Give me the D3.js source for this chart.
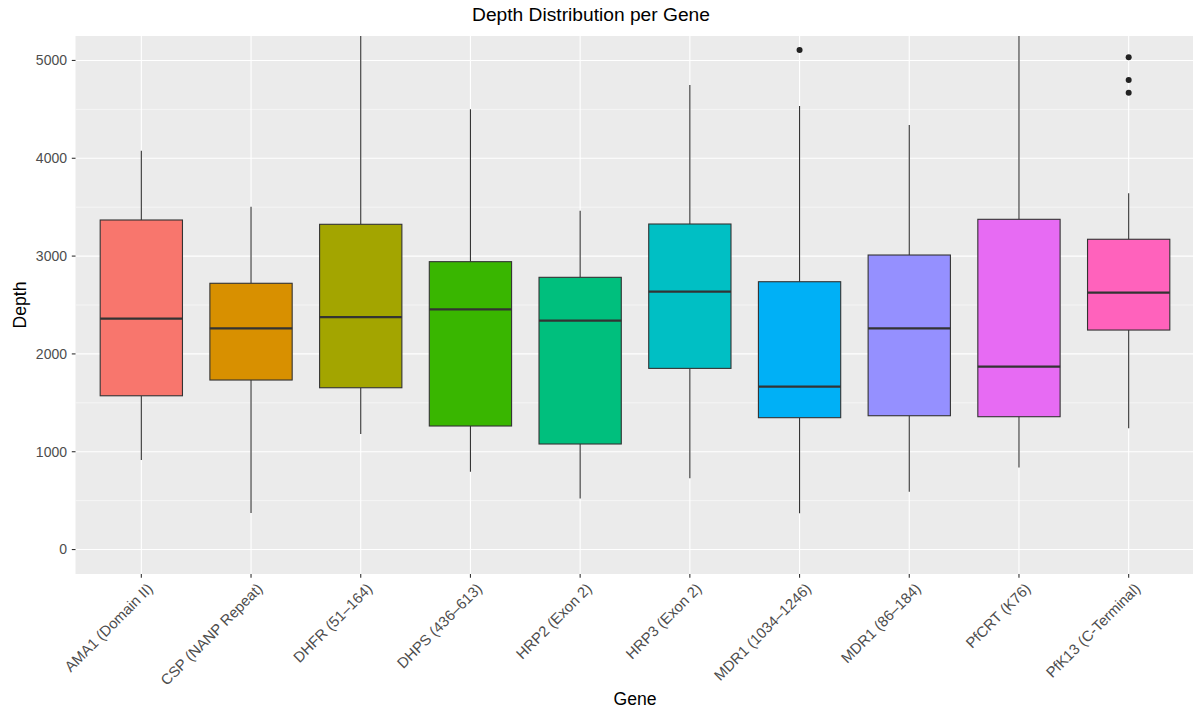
<!DOCTYPE html>
<html>
<head>
<meta charset="utf-8">
<script src="https://cdn.jsdelivr.net/npm/d3@7"></script>
<style>
  html, body { margin: 0; padding: 0; background: #fff; }
  svg { display: block; }
  text { font-family: "Liberation Sans", Arial, sans-serif; }
</style>
</head>
<body>
<svg id="chart" width="1193" height="710"></svg>
<script>
// ---- data ----
const genes = ["AMA1 (Domain II)", "CSP (NANP Repeat)", "DHFR (51\u2013164)", "DHPS (436\u2013613)",
  "HRP2 (Exon 2)", "HRP3 (Exon 2)", "MDR1 (1034\u20131246)", "MDR1 (86\u2013184)", "PfCRT (K76)", "PfK13 (C-Terminal)"];
const whiskerLow  = [915, 373, 1181, 796, 523, 728, 370, 591, 840, 1239];
const q1          = [1572, 1733, 1654, 1263, 1079, 1852, 1348, 1368, 1358, 2244];
const median      = [2360, 2262, 2377, 2456, 2340, 2636, 1665, 2262, 1869, 2626];
const q3          = [3369, 2722, 3325, 2943, 2783, 3328, 2738, 3011, 3376, 3172];
const whiskerHigh = [4078, 3505, 5600, 4501, 3464, 4749, 4535, 4340, 5600, 3642];
const outliers    = [[], [], [], [], [], [], [5107], [], [], [5033, 4801, 4671]];
const colors = ["#F8766D", "#D89000", "#A3A500", "#39B600", "#00BF7D", "#00BFC4", "#00B0F6", "#9590FF", "#E76BF3", "#FF62BC"];
const yTicks = [0, 1000, 2000, 3000, 4000, 5000];
const yMinor = [500, 1500, 2500, 3500, 4500];
const yLimits = [-250, 5250];

// ---- layout ----
const svg = d3.select("#chart");
const panel = { left: 75.5, right: 1194.5, top: 36, bottom: 574 };

// ggplot discrete expansion: 0.6 units each side
const x = d3.scalePoint().domain(genes)
  .range([panel.left, panel.right]).padding(0.6);
const cx = g => x(g);
const unit = x.step();
const y = d3.scaleLinear().domain(yLimits).range([panel.bottom, panel.top]);

// panel background
svg.append("rect").attr("x", panel.left).attr("y", panel.top)
  .attr("width", panel.right - panel.left).attr("height", panel.bottom - panel.top)
  .attr("fill", "#EBEBEB");

svg.append("clipPath").attr("id", "clip").append("rect")
  .attr("x", panel.left).attr("y", panel.top)
  .attr("width", panel.right - panel.left).attr("height", panel.bottom - panel.top);

const grid = svg.append("g").attr("clip-path", "url(#clip)");
grid.selectAll(".minor").data(yMinor).join("line")
  .attr("x1", panel.left).attr("x2", panel.right)
  .attr("y1", d => y(d)).attr("y2", d => y(d))
  .attr("stroke", "#fff").attr("stroke-width", 0.55);
grid.selectAll(".major").data(yTicks).join("line")
  .attr("x1", panel.left).attr("x2", panel.right)
  .attr("y1", d => y(d)).attr("y2", d => y(d))
  .attr("stroke", "#fff").attr("stroke-width", 1.1);
grid.selectAll(".vmajor").data(genes).join("line")
  .attr("x1", d => cx(d)).attr("x2", d => cx(d))
  .attr("y1", panel.top).attr("y2", panel.bottom)
  .attr("stroke", "#fff").attr("stroke-width", 1.1);

// boxes
const marks = svg.append("g").attr("clip-path", "url(#clip)");
const bw = unit * 0.75;
const rows = genes.map((g, i) => ({ g, i }));

const box = marks.selectAll(".box").data(rows).join("g");
box.append("line")
  .attr("x1", d => cx(d.g)).attr("x2", d => cx(d.g))
  .attr("y1", d => y(q3[d.i])).attr("y2", d => y(whiskerHigh[d.i]))
  .attr("stroke", "#333").attr("stroke-width", 1.1);
box.append("line")
  .attr("x1", d => cx(d.g)).attr("x2", d => cx(d.g))
  .attr("y1", d => y(q1[d.i])).attr("y2", d => y(whiskerLow[d.i]))
  .attr("stroke", "#333").attr("stroke-width", 1.1);
box.append("rect")
  .attr("x", d => cx(d.g) - bw / 2).attr("width", bw)
  .attr("y", d => y(q3[d.i])).attr("height", d => y(q1[d.i]) - y(q3[d.i]))
  .attr("fill", d => colors[d.i]).attr("stroke", "#333").attr("stroke-width", 1.1);
box.append("line")
  .attr("x1", d => cx(d.g) - bw / 2).attr("x2", d => cx(d.g) + bw / 2)
  .attr("y1", d => y(median[d.i])).attr("y2", d => y(median[d.i]))
  .attr("stroke", "#333").attr("stroke-width", 2.2);
box.selectAll("circle").data(d => outliers[d.i].map(v => ({ g: d.g, v }))).join("circle")
  .attr("cx", d => cx(d.g)).attr("cy", d => y(d.v)).attr("r", 3)
  .attr("fill", "#222");

// y axis
const yAxis = svg.append("g");
yTicks.forEach(t => {
  yAxis.append("line").attr("x1", panel.left - 3.7).attr("x2", panel.left)
    .attr("y1", y(t)).attr("y2", y(t)).attr("stroke", "#333").attr("stroke-width", 1.1);
  yAxis.append("text").attr("x", panel.left - 8.5).attr("y", y(t))
    .attr("dy", "0.35em").attr("text-anchor", "end")
    .attr("font-size", 14).attr("fill", "#4D4D4D").text(t);
});

// x axis
const xAxis = svg.append("g");
genes.forEach(g => {
  xAxis.append("line").attr("x1", cx(g)).attr("x2", cx(g))
    .attr("y1", panel.bottom).attr("y2", panel.bottom + 3.7)
    .attr("stroke", "#333").attr("stroke-width", 1.1);
  xAxis.append("text")
    .attr("transform", `translate(${cx(g) + 5},${panel.bottom + 8}) rotate(-45)`)
    .attr("text-anchor", "end").attr("dy", "0.72em")
    .attr("font-size", 14.8).attr("fill", "#4D4D4D").text(g);
});

// titles
svg.append("text").attr("x", (panel.left + panel.right) / 2).attr("y", 705)
  .attr("text-anchor", "middle").attr("font-size", 17.6).attr("fill", "#000").text("Gene");
svg.append("text").attr("transform", `translate(26,${(panel.top + panel.bottom) / 2}) rotate(-90)`)
  .attr("text-anchor", "middle").attr("font-size", 17.6).attr("fill", "#000").text("Depth");
svg.append("text").attr("x", 591).attr("y", 21)
  .attr("text-anchor", "middle").attr("font-size", 19.2).attr("fill", "#000")
  .text("Depth Distribution per Gene");
</script>
</body>
</html>
